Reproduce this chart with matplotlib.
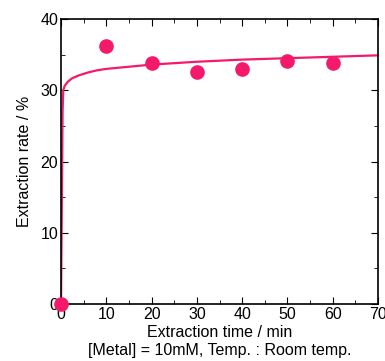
import matplotlib
matplotlib.use('Agg')
import matplotlib.pyplot as plt
from matplotlib.ticker import MultipleLocator

plt.rcParams['font.family'] = ['Liberation Sans', 'DejaVu Sans']

# 実測点
time_pts = [0, 10, 20, 30, 40, 50, 60]
rate_pts = [0, 36.2, 33.8, 32.6, 33.0, 34.1, 33.8]

# フィット曲線
time_fit = [0, 0.2, 0.35, 0.5, 0.8, 1.5, 2.5, 4, 6, 8, 10, 15, 20, 30, 40, 50, 60, 70]
rate_fit = [0, 15.0, 27.0, 30.0, 30.6, 31.2, 31.7, 32.1, 32.5, 32.8, 33.0, 33.3, 33.6, 34.0, 34.3, 34.5, 34.7, 34.9]

color = '#F5196B'

fig = plt.figure(figsize=(3.85, 3.61), dpi=100)
ax = fig.add_axes([61/385, 1 - 304/361, (378-61)/385, (304-19)/361])

ax.plot(time_fit, rate_fit, color=color, lw=1.6)
ax.plot(time_pts, rate_pts, 'o', color=color, ms=9.5, clip_on=False, zorder=5)

ax.set_xlim(0, 70)
ax.set_ylim(0, 40)
ax.xaxis.set_major_locator(MultipleLocator(10))
ax.xaxis.set_minor_locator(MultipleLocator(5))
ax.yaxis.set_major_locator(MultipleLocator(10))
ax.yaxis.set_minor_locator(MultipleLocator(5))
ax.tick_params(which='both', direction='in', top=True, right=True, labelsize=11.5, pad=2)
ax.tick_params(which='major', length=5)
ax.tick_params(which='minor', length=3)
for s in ax.spines.values():
    s.set_linewidth(1.2)

ax.set_xlabel('Extraction time / min\n[Metal] = 10mM, Temp. : Room temp.', fontsize=11.5, labelpad=2, linespacing=1.3)
ax.set_ylabel('Extraction rate / %', fontsize=11.5, labelpad=6)

fig.savefig('out.png', dpi=100)
